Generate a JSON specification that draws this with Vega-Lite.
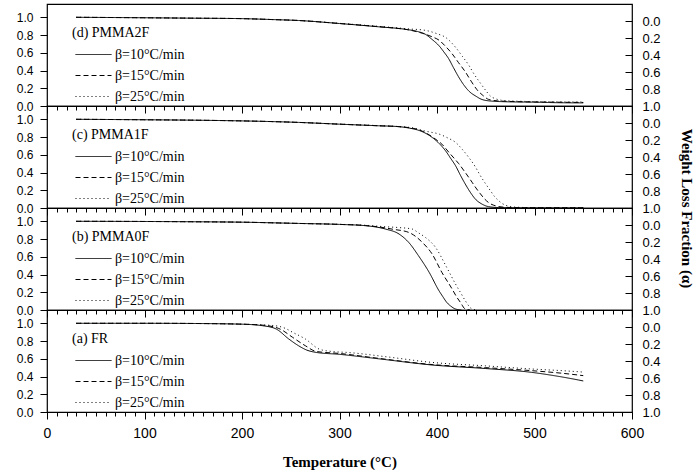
{
  "$schema": "https://vega.github.io/schema/vega-lite/v6.json",
  "padding": {"left": 15, "top": 3, "right": 0, "bottom": 0},
  "background": "white",
  "data": {"values": [
    {"p":"d","r":10,"T":30,"w":1.0},{"p":"d","r":10,"T":100,"w":0.995},{"p":"d","r":10,"T":150,"w":0.99},{"p":"d","r":10,"T":200,"w":0.985},{"p":"d","r":10,"T":230,"w":0.975},{"p":"d","r":10,"T":258,"w":0.964},{"p":"d","r":10,"T":300,"w":0.93},{"p":"d","r":10,"T":340,"w":0.893},{"p":"d","r":10,"T":368,"w":0.864},{"p":"d","r":10,"T":380,"w":0.84},{"p":"d","r":10,"T":388,"w":0.809},{"p":"d","r":10,"T":395,"w":0.75},{"p":"d","r":10,"T":402,"w":0.68},{"p":"d","r":10,"T":407,"w":0.61},{"p":"d","r":10,"T":412,"w":0.533},{"p":"d","r":10,"T":417,"w":0.43},{"p":"d","r":10,"T":422,"w":0.331},{"p":"d","r":10,"T":427,"w":0.245},{"p":"d","r":10,"T":433,"w":0.165},{"p":"d","r":10,"T":440,"w":0.11},{"p":"d","r":10,"T":446,"w":0.074},{"p":"d","r":10,"T":456,"w":0.055},{"p":"d","r":10,"T":470,"w":0.048},{"p":"d","r":10,"T":500,"w":0.043},{"p":"d","r":10,"T":525,"w":0.037},{"p":"d","r":10,"T":550,"w":0.035},
    {"p":"d","r":15,"T":30,"w":1.0},{"p":"d","r":15,"T":100,"w":0.995},{"p":"d","r":15,"T":150,"w":0.99},{"p":"d","r":15,"T":200,"w":0.985},{"p":"d","r":15,"T":230,"w":0.975},{"p":"d","r":15,"T":258,"w":0.964},{"p":"d","r":15,"T":300,"w":0.93},{"p":"d","r":15,"T":340,"w":0.895},{"p":"d","r":15,"T":355,"w":0.88},{"p":"d","r":15,"T":370,"w":0.86},{"p":"d","r":15,"T":385,"w":0.82},{"p":"d","r":15,"T":395,"w":0.78},{"p":"d","r":15,"T":402,"w":0.743},{"p":"d","r":15,"T":409,"w":0.67},{"p":"d","r":15,"T":415.5,"w":0.589},{"p":"d","r":15,"T":422,"w":0.49},{"p":"d","r":15,"T":429,"w":0.386},{"p":"d","r":15,"T":435,"w":0.28},{"p":"d","r":15,"T":441,"w":0.184},{"p":"d","r":15,"T":447,"w":0.12},{"p":"d","r":15,"T":453,"w":0.074},{"p":"d","r":15,"T":462,"w":0.058},{"p":"d","r":15,"T":480,"w":0.05},{"p":"d","r":15,"T":520,"w":0.043},{"p":"d","r":15,"T":550,"w":0.04},
    {"p":"d","r":25,"T":30,"w":1.0},{"p":"d","r":25,"T":100,"w":0.995},{"p":"d","r":25,"T":150,"w":0.99},{"p":"d","r":25,"T":200,"w":0.985},{"p":"d","r":25,"T":230,"w":0.975},{"p":"d","r":25,"T":258,"w":0.964},{"p":"d","r":25,"T":300,"w":0.932},{"p":"d","r":25,"T":340,"w":0.898},{"p":"d","r":25,"T":355,"w":0.885},{"p":"d","r":25,"T":370,"w":0.87},{"p":"d","r":25,"T":388,"w":0.853},{"p":"d","r":25,"T":400,"w":0.815},{"p":"d","r":25,"T":409,"w":0.772},{"p":"d","r":25,"T":419,"w":0.662},{"p":"d","r":25,"T":426,"w":0.56},{"p":"d","r":25,"T":432.6,"w":0.46},{"p":"d","r":25,"T":438,"w":0.36},{"p":"d","r":25,"T":444.5,"w":0.258},{"p":"d","r":25,"T":450,"w":0.175},{"p":"d","r":25,"T":455,"w":0.11},{"p":"d","r":25,"T":460,"w":0.082},{"p":"d","r":25,"T":468,"w":0.062},{"p":"d","r":25,"T":480,"w":0.055},{"p":"d","r":25,"T":520,"w":0.047},{"p":"d","r":25,"T":550,"w":0.045},

    {"p":"c","r":10,"T":30,"w":1.0},{"p":"c","r":10,"T":100,"w":0.995},{"p":"c","r":10,"T":150,"w":0.99},{"p":"c","r":10,"T":200,"w":0.982},{"p":"c","r":10,"T":258,"w":0.965},{"p":"c","r":10,"T":300,"w":0.945},{"p":"c","r":10,"T":340,"w":0.927},{"p":"c","r":10,"T":361,"w":0.917},{"p":"c","r":10,"T":372,"w":0.9},{"p":"c","r":10,"T":380,"w":0.88},{"p":"c","r":10,"T":387,"w":0.85},{"p":"c","r":10,"T":395,"w":0.796},{"p":"c","r":10,"T":402,"w":0.73},{"p":"c","r":10,"T":408.7,"w":0.646},{"p":"c","r":10,"T":414,"w":0.56},{"p":"c","r":10,"T":419,"w":0.477},{"p":"c","r":10,"T":424,"w":0.37},{"p":"c","r":10,"T":429,"w":0.27},{"p":"c","r":10,"T":434,"w":0.18},{"p":"c","r":10,"T":439.4,"w":0.1},{"p":"c","r":10,"T":446,"w":0.045},{"p":"c","r":10,"T":453,"w":0.015},{"p":"c","r":10,"T":463,"w":0.005},{"p":"c","r":10,"T":480,"w":0.002},{"p":"c","r":10,"T":550,"w":0.0},
    {"p":"c","r":15,"T":30,"w":1.0},{"p":"c","r":15,"T":100,"w":0.995},{"p":"c","r":15,"T":150,"w":0.99},{"p":"c","r":15,"T":200,"w":0.982},{"p":"c","r":15,"T":258,"w":0.965},{"p":"c","r":15,"T":300,"w":0.945},{"p":"c","r":15,"T":340,"w":0.927},{"p":"c","r":15,"T":361,"w":0.917},{"p":"c","r":15,"T":372,"w":0.905},{"p":"c","r":15,"T":382,"w":0.88},{"p":"c","r":15,"T":390,"w":0.838},{"p":"c","r":15,"T":398,"w":0.78},{"p":"c","r":15,"T":405,"w":0.72},{"p":"c","r":15,"T":412,"w":0.63},{"p":"c","r":15,"T":418,"w":0.555},{"p":"c","r":15,"T":422.3,"w":0.5},{"p":"c","r":15,"T":429,"w":0.4},{"p":"c","r":15,"T":436,"w":0.29},{"p":"c","r":15,"T":440,"w":0.225},{"p":"c","r":15,"T":444.5,"w":0.16},{"p":"c","r":15,"T":449,"w":0.1},{"p":"c","r":15,"T":453,"w":0.06},{"p":"c","r":15,"T":460,"w":0.025},{"p":"c","r":15,"T":470,"w":0.008},{"p":"c","r":15,"T":490,"w":0.003},{"p":"c","r":15,"T":550,"w":0.002},
    {"p":"c","r":25,"T":30,"w":1.0},{"p":"c","r":25,"T":100,"w":0.995},{"p":"c","r":25,"T":150,"w":0.99},{"p":"c","r":25,"T":200,"w":0.982},{"p":"c","r":25,"T":258,"w":0.965},{"p":"c","r":25,"T":300,"w":0.946},{"p":"c","r":25,"T":340,"w":0.929},{"p":"c","r":25,"T":361,"w":0.918},{"p":"c","r":25,"T":374,"w":0.905},{"p":"c","r":25,"T":385,"w":0.875},{"p":"c","r":25,"T":392,"w":0.858},{"p":"c","r":25,"T":402,"w":0.834},{"p":"c","r":25,"T":411,"w":0.79},{"p":"c","r":25,"T":419,"w":0.74},{"p":"c","r":25,"T":426,"w":0.66},{"p":"c","r":25,"T":432.6,"w":0.57},{"p":"c","r":25,"T":439,"w":0.47},{"p":"c","r":25,"T":444.5,"w":0.364},{"p":"c","r":25,"T":450,"w":0.27},{"p":"c","r":25,"T":454.8,"w":0.195},{"p":"c","r":25,"T":459,"w":0.13},{"p":"c","r":25,"T":463.3,"w":0.082},{"p":"c","r":25,"T":467,"w":0.05},{"p":"c","r":25,"T":471.8,"w":0.026},{"p":"c","r":25,"T":480,"w":0.01},{"p":"c","r":25,"T":495,"w":0.005},{"p":"c","r":25,"T":550,"w":0.003},

    {"p":"b","r":10,"T":30,"w":1.0},{"p":"b","r":10,"T":100,"w":0.998},{"p":"b","r":10,"T":150,"w":0.995},{"p":"b","r":10,"T":200,"w":0.99},{"p":"b","r":10,"T":258,"w":0.976},{"p":"b","r":10,"T":300,"w":0.965},{"p":"b","r":10,"T":327,"w":0.95},{"p":"b","r":10,"T":347,"w":0.913},{"p":"b","r":10,"T":361,"w":0.857},{"p":"b","r":10,"T":371,"w":0.762},{"p":"b","r":10,"T":381,"w":0.612},{"p":"b","r":10,"T":392,"w":0.424},{"p":"b","r":10,"T":402,"w":0.218},{"p":"b","r":10,"T":406,"w":0.15},{"p":"b","r":10,"T":410,"w":0.086},{"p":"b","r":10,"T":414,"w":0.045},{"p":"b","r":10,"T":419,"w":0.011},{"p":"b","r":10,"T":425,"w":0.0},
    {"p":"b","r":15,"T":30,"w":1.0},{"p":"b","r":15,"T":100,"w":0.998},{"p":"b","r":15,"T":150,"w":0.995},{"p":"b","r":15,"T":200,"w":0.99},{"p":"b","r":15,"T":258,"w":0.976},{"p":"b","r":15,"T":300,"w":0.965},{"p":"b","r":15,"T":327,"w":0.952},{"p":"b","r":15,"T":340,"w":0.937},{"p":"b","r":15,"T":355,"w":0.91},{"p":"b","r":15,"T":371,"w":0.875},{"p":"b","r":15,"T":385,"w":0.762},{"p":"b","r":15,"T":395,"w":0.631},{"p":"b","r":15,"T":405,"w":0.424},{"p":"b","r":15,"T":415.5,"w":0.237},{"p":"b","r":15,"T":420,"w":0.15},{"p":"b","r":15,"T":424,"w":0.086},{"p":"b","r":15,"T":429,"w":0.011},{"p":"b","r":15,"T":434,"w":0.0},
    {"p":"b","r":25,"T":30,"w":1.0},{"p":"b","r":25,"T":100,"w":0.998},{"p":"b","r":25,"T":150,"w":0.995},{"p":"b","r":25,"T":200,"w":0.99},{"p":"b","r":25,"T":258,"w":0.976},{"p":"b","r":25,"T":300,"w":0.966},{"p":"b","r":25,"T":327,"w":0.955},{"p":"b","r":25,"T":345,"w":0.94},{"p":"b","r":25,"T":360,"w":0.93},{"p":"b","r":25,"T":374.5,"w":0.913},{"p":"b","r":25,"T":381,"w":0.87},{"p":"b","r":25,"T":388,"w":0.819},{"p":"b","r":25,"T":398.5,"w":0.706},{"p":"b","r":25,"T":409,"w":0.5},{"p":"b","r":25,"T":419,"w":0.293},{"p":"b","r":25,"T":425,"w":0.18},{"p":"b","r":25,"T":429,"w":0.105},{"p":"b","r":25,"T":436,"w":0.011},{"p":"b","r":25,"T":441,"w":0.0},

    {"p":"a","r":10,"T":30,"w":1.0},{"p":"a","r":10,"T":100,"w":1.0},{"p":"a","r":10,"T":150,"w":0.998},{"p":"a","r":10,"T":200,"w":0.99},{"p":"a","r":10,"T":221,"w":0.973},{"p":"a","r":10,"T":235,"w":0.936},{"p":"a","r":10,"T":248,"w":0.823},{"p":"a","r":10,"T":258,"w":0.747},{"p":"a","r":10,"T":266,"w":0.7},{"p":"a","r":10,"T":276,"w":0.672},{"p":"a","r":10,"T":300,"w":0.65},{"p":"a","r":10,"T":340,"w":0.6},{"p":"a","r":10,"T":395,"w":0.53},{"p":"a","r":10,"T":450,"w":0.49},{"p":"a","r":10,"T":497,"w":0.447},{"p":"a","r":10,"T":520,"w":0.41},{"p":"a","r":10,"T":545,"w":0.361},{"p":"a","r":10,"T":550,"w":0.35},
    {"p":"a","r":15,"T":30,"w":1.0},{"p":"a","r":15,"T":100,"w":1.0},{"p":"a","r":15,"T":150,"w":0.998},{"p":"a","r":15,"T":200,"w":0.99},{"p":"a","r":15,"T":225,"w":0.975},{"p":"a","r":15,"T":240,"w":0.93},{"p":"a","r":15,"T":252,"w":0.841},{"p":"a","r":15,"T":265,"w":0.747},{"p":"a","r":15,"T":276,"w":0.683},{"p":"a","r":15,"T":300,"w":0.66},{"p":"a","r":15,"T":340,"w":0.605},{"p":"a","r":15,"T":395,"w":0.535},{"p":"a","r":15,"T":450,"w":0.5},{"p":"a","r":15,"T":497,"w":0.466},{"p":"a","r":15,"T":530,"w":0.435},{"p":"a","r":15,"T":550,"w":0.41},
    {"p":"a","r":25,"T":30,"w":1.0},{"p":"a","r":25,"T":100,"w":1.0},{"p":"a","r":25,"T":150,"w":0.998},{"p":"a","r":25,"T":200,"w":0.99},{"p":"a","r":25,"T":232,"w":0.975},{"p":"a","r":25,"T":245,"w":0.94},{"p":"a","r":25,"T":252,"w":0.898},{"p":"a","r":25,"T":265,"w":0.823},{"p":"a","r":25,"T":279,"w":0.71},{"p":"a","r":25,"T":290,"w":0.685},{"p":"a","r":25,"T":310,"w":0.67},{"p":"a","r":25,"T":350,"w":0.62},{"p":"a","r":25,"T":395,"w":0.559},{"p":"a","r":25,"T":450,"w":0.52},{"p":"a","r":25,"T":497,"w":0.485},{"p":"a","r":25,"T":530,"w":0.465},{"p":"a","r":25,"T":550,"w":0.45}
  ]},
  "spacing": 0,
  "bounds": "flush",
  "resolve": {"scale": {"strokeDash": "independent"}, "legend": {"strokeDash": "independent"}},
  "vconcat": [
    {
      "width": 585, "height": 102,
      "transform": [{"filter": "datum.p === 'd'"}],
      "layer": [
        {
          "mark": {"type": "line", "interpolate": "monotone", "strokeWidth": 1, "color": "#000"},
          "encoding": {
            "x": {"field": "T", "type": "quantitative", "scale": {"domain": [0, 600], "nice": false},
                  "axis": {"values": [0,10,20,30,40,50,60,70,80,90,100,110,120,130,140,150,160,170,180,190,200,210,220,230,240,250,260,270,280,290,300,310,320,330,340,350,360,370,380,390,400,410,420,430,440,450,460,470,480,490,500,510,520,530,540,550,560,570,580,590,600],
                           "labels": false, "title": null,
                           "tickSize": {"condition": {"test": "datum.value % 100 === 0", "value": 7}, "value": 4}}},
            "y": {"field": "w", "type": "quantitative", "scale": {"domain": [0, 1.15], "nice": false, "zero": false},
                  "axis": {"orient": "left", "values": [0, 0.2, 0.4, 0.6, 0.8, 1.0], "format": ".1f", "title": null, "tickSize": 7, "labelPadding": 7, "labelOverlap": false}},
            "strokeDash": {"field": "r", "type": "nominal",
                           "scale": {"domain": [10, 15, 25], "range": [[1, 0], [5, 3], [1, 3]]},
                           "legend": {"title": "(d) PMMA2F", "orient": "none", "legendX": 25, "legendY": 22, "labelExpr": "'β=' + datum.label + '°C/min'"}}
          }
        },
        {
          "mark": {"type": "point", "opacity": 0},
          "encoding": {
            "y": {"datum": 0, "type": "quantitative", "scale": {"domain": [-0.2, 1.0], "reverse": true, "nice": false, "zero": false},
                  "axis": {"orient": "right", "values": [0, 0.2, 0.4, 0.6, 0.8, 1.0], "format": ".1f", "title": null, "tickSize": -7, "labelPadding": 17, "labelOverlap": false}}
          }
        }
      ],
      "resolve": {"scale": {"y": "independent"}}
    },
    {
      "width": 585, "height": 102,
      "transform": [{"filter": "datum.p === 'c'"}],
      "layer": [
        {
          "mark": {"type": "line", "interpolate": "monotone", "strokeWidth": 1, "color": "#000"},
          "encoding": {
            "x": {"field": "T", "type": "quantitative", "scale": {"domain": [0, 600], "nice": false},
                  "axis": {"values": [0,10,20,30,40,50,60,70,80,90,100,110,120,130,140,150,160,170,180,190,200,210,220,230,240,250,260,270,280,290,300,310,320,330,340,350,360,370,380,390,400,410,420,430,440,450,460,470,480,490,500,510,520,530,540,550,560,570,580,590,600],
                           "labels": false, "title": null,
                           "tickSize": {"condition": {"test": "datum.value % 100 === 0", "value": 7}, "value": 4}}},
            "y": {"field": "w", "type": "quantitative", "scale": {"domain": [0, 1.15], "nice": false, "zero": false},
                  "axis": {"orient": "left", "values": [0, 0.2, 0.4, 0.6, 0.8, 1.0], "format": ".1f", "title": null, "tickSize": 7, "labelPadding": 7, "labelOverlap": false}},
            "strokeDash": {"field": "r", "type": "nominal",
                           "scale": {"domain": [10, 15, 25], "range": [[1, 0], [5, 3], [1, 3]]},
                           "legend": {"title": "(c) PMMA1F", "orient": "none", "legendX": 25, "legendY": 22, "labelExpr": "'β=' + datum.label + '°C/min'"}}
          }
        },
        {
          "mark": {"type": "point", "opacity": 0},
          "encoding": {
            "y": {"datum": 0, "type": "quantitative", "scale": {"domain": [-0.2, 1.0], "reverse": true, "nice": false, "zero": false},
                  "axis": {"orient": "right", "values": [0, 0.2, 0.4, 0.6, 0.8, 1.0], "format": ".1f", "tickSize": -7, "labelPadding": 17, "labelOverlap": false,
                           "title": "Weight Loss Fraction (α)", "titleFont": "Liberation Serif", "titleFontWeight": "bold", "titleFontSize": 15,
                           "titleAngle": 90, "titleAlign": "center", "titleBaseline": "middle", "titleX": 54, "titleY": 102}}
          }
        }
      ],
      "resolve": {"scale": {"y": "independent"}}
    },
    {
      "width": 585, "height": 102,
      "transform": [{"filter": "datum.p === 'b'"}],
      "layer": [
        {
          "mark": {"type": "line", "interpolate": "monotone", "strokeWidth": 1, "color": "#000"},
          "encoding": {
            "x": {"field": "T", "type": "quantitative", "scale": {"domain": [0, 600], "nice": false},
                  "axis": {"values": [0,10,20,30,40,50,60,70,80,90,100,110,120,130,140,150,160,170,180,190,200,210,220,230,240,250,260,270,280,290,300,310,320,330,340,350,360,370,380,390,400,410,420,430,440,450,460,470,480,490,500,510,520,530,540,550,560,570,580,590,600],
                           "labels": false, "title": null,
                           "tickSize": {"condition": {"test": "datum.value % 100 === 0", "value": 7}, "value": 4}}},
            "y": {"field": "w", "type": "quantitative", "scale": {"domain": [0, 1.15], "nice": false, "zero": false},
                  "axis": {"orient": "left", "values": [0, 0.2, 0.4, 0.6, 0.8, 1.0], "format": ".1f", "title": null, "tickSize": 7, "labelPadding": 7, "labelOverlap": false}},
            "strokeDash": {"field": "r", "type": "nominal",
                           "scale": {"domain": [10, 15, 25], "range": [[1, 0], [5, 3], [1, 3]]},
                           "legend": {"title": "(b) PMMA0F", "orient": "none", "legendX": 25, "legendY": 22, "labelExpr": "'β=' + datum.label + '°C/min'"}}
          }
        },
        {
          "mark": {"type": "point", "opacity": 0},
          "encoding": {
            "y": {"datum": 0, "type": "quantitative", "scale": {"domain": [-0.2, 1.0], "reverse": true, "nice": false, "zero": false},
                  "axis": {"orient": "right", "values": [0, 0.2, 0.4, 0.6, 0.8, 1.0], "format": ".1f", "title": null, "tickSize": -7, "labelPadding": 17, "labelOverlap": false}}
          }
        }
      ],
      "resolve": {"scale": {"y": "independent"}}
    },
    {
      "width": 585, "height": 102,
      "transform": [{"filter": "datum.p === 'a'"}],
      "layer": [
        {
          "mark": {"type": "line", "interpolate": "monotone", "strokeWidth": 1, "color": "#000"},
          "encoding": {
            "x": {"field": "T", "type": "quantitative", "scale": {"domain": [0, 600], "nice": false},
                  "axis": {"values": [0,10,20,30,40,50,60,70,80,90,100,110,120,130,140,150,160,170,180,190,200,210,220,230,240,250,260,270,280,290,300,310,320,330,340,350,360,370,380,390,400,410,420,430,440,450,460,470,480,490,500,510,520,530,540,550,560,570,580,590,600],
                           "labelExpr": "datum.value % 100 === 0 ? datum.label : ''",
                           "labelFlush": false, "labelOverlap": false, "labelPadding": 7, "labelFontSize": 14,
                           "title": "Temperature (°C)", "titleFont": "Liberation Serif", "titleFontWeight": "bold", "titleFontSize": 15, "titlePadding": 14,
                           "tickSize": {"condition": {"test": "datum.value % 100 === 0", "value": 7}, "value": 4}}},
            "y": {"field": "w", "type": "quantitative", "scale": {"domain": [0, 1.15], "nice": false, "zero": false},
                  "axis": {"orient": "left", "values": [0, 0.2, 0.4, 0.6, 0.8, 1.0], "format": ".1f", "title": null, "tickSize": 7, "labelPadding": 7, "labelOverlap": false}},
            "strokeDash": {"field": "r", "type": "nominal",
                           "scale": {"domain": [10, 15, 25], "range": [[1, 0], [5, 3], [1, 3]]},
                           "legend": {"title": "(a) FR", "orient": "none", "legendX": 25, "legendY": 22, "labelExpr": "'β=' + datum.label + '°C/min'"}}
          }
        },
        {
          "mark": {"type": "point", "opacity": 0},
          "encoding": {
            "y": {"datum": 0, "type": "quantitative", "scale": {"domain": [-0.2, 1.0], "reverse": true, "nice": false, "zero": false},
                  "axis": {"orient": "right", "values": [0, 0.2, 0.4, 0.6, 0.8, 1.0], "format": ".1f", "title": null, "tickSize": -7, "labelPadding": 17, "labelOverlap": false}}
          }
        }
      ],
      "resolve": {"scale": {"y": "independent"}}
    }
  ],
  "config": {
    "view": {"stroke": "#000", "strokeWidth": 1.2},
    "axis": {"grid": false, "domain": false, "tickColor": "#000", "tickWidth": 1, "labelColor": "#000",
             "labelFont": "Liberation Sans", "labelFontSize": 13, "titleColor": "#000"},
    "axisLeft": {"labelFontSize": 12},
    "legend": {"padding": 0, "titleFont": "Liberation Serif", "titleFontSize": 14, "titleFontWeight": "normal", "titleColor": "#000",
               "titlePadding": 4, "titleLimit": 300, "labelFont": "Liberation Serif", "labelFontSize": 14, "labelColor": "#000",
               "labelLimit": 300,
               "symbolType": "stroke", "symbolSize": 1296, "symbolStrokeColor": "#000", "symbolStrokeWidth": 1,
               "clipHeight": 21, "rowPadding": 0, "labelOffset": 3, "symbolOffset": 3}
  }
}
